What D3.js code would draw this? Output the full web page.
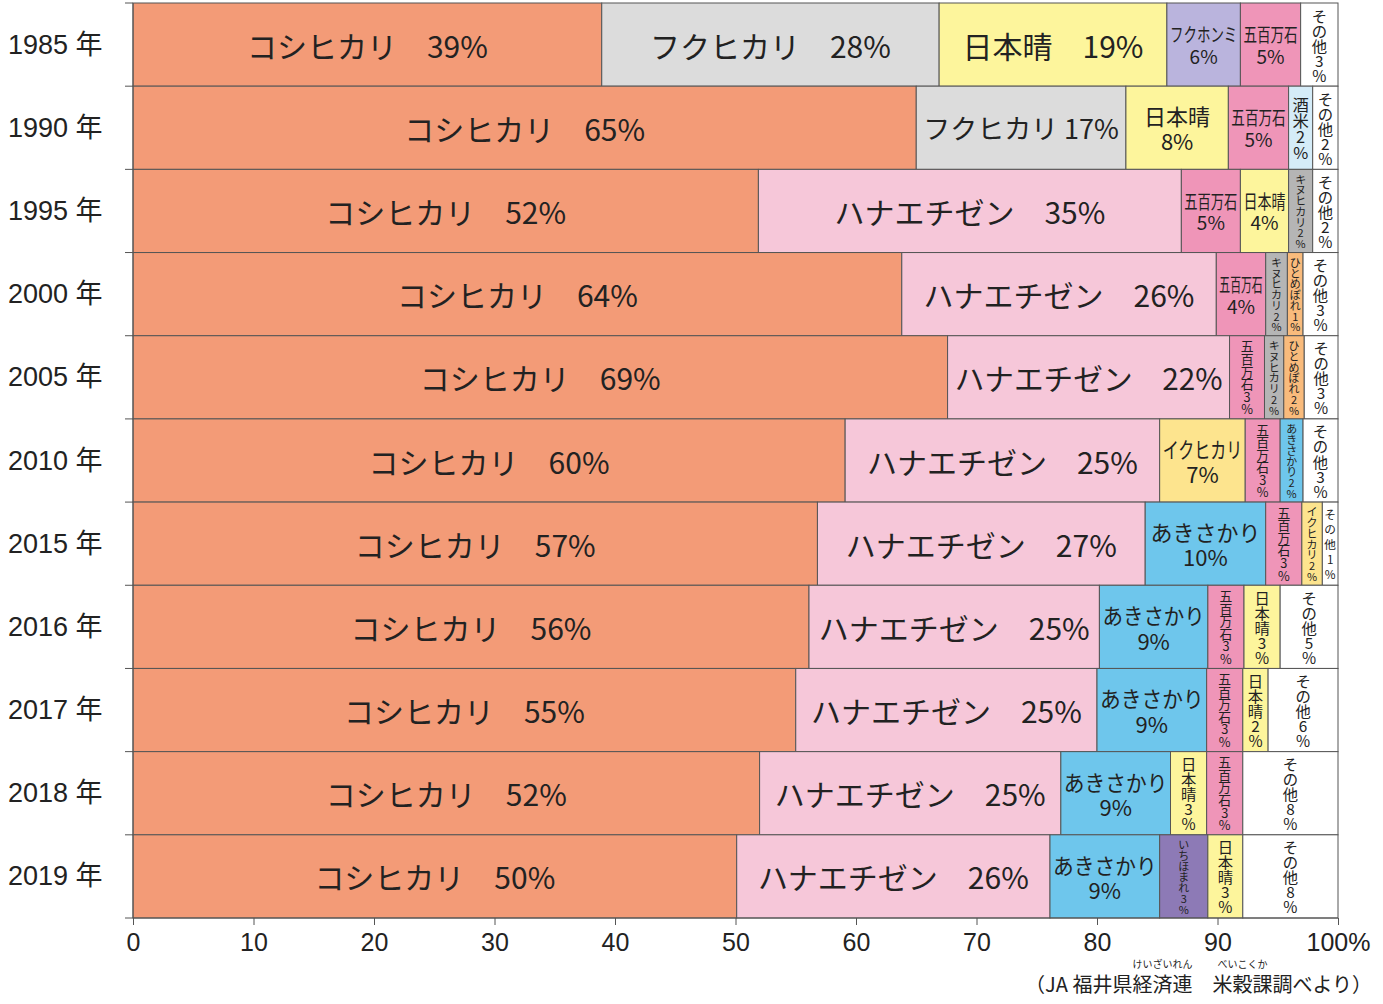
<!DOCTYPE html>
<html>
<head>
<meta charset="utf-8">
<script src="https://cdn.jsdelivr.net/npm/d3@7"></script>
<style>
  body { margin: 0; background: #fff; }
  svg { display: block; font-family: "Noto Sans CJK JP", "Noto Sans", sans-serif; }
  .axis text { font-size: 25px; fill: #222; font-family: "Liberation Sans", "Noto Sans CJK JP", sans-serif; }
  .axis path, .axis line { stroke: #555; }
</style>
</head>
<body>
<svg width="1383" height="1004"></svg>
<script>
// years shown on the left
const years = ["1985", "1990", "1995", "2000", "2005", "2010", "2015", "2016", "2017", "2018", "2019"];

// varieties in each year, left to right
const varieties = [
    ["コシヒカリ", "フクヒカリ", "日本晴", "フクホンミ", "五百万石", "その他"],
    ["コシヒカリ", "フクヒカリ", "日本晴", "五百万石", "酒米", "その他"],
    ["コシヒカリ", "ハナエチゼン", "五百万石", "日本晴", "キヌヒカリ", "その他"],
    ["コシヒカリ", "ハナエチゼン", "五百万石", "キヌヒカリ", "ひとめぼれ", "その他"],
    ["コシヒカリ", "ハナエチゼン", "五百万石", "キヌヒカリ", "ひとめぼれ", "その他"],
    ["コシヒカリ", "ハナエチゼン", "イクヒカリ", "五百万石", "あきさかり", "その他"],
    ["コシヒカリ", "ハナエチゼン", "あきさかり", "五百万石", "イクヒカリ", "その他"],
    ["コシヒカリ", "ハナエチゼン", "あきさかり", "五百万石", "日本晴", "その他"],
    ["コシヒカリ", "ハナエチゼン", "あきさかり", "五百万石", "日本晴", "その他"],
    ["コシヒカリ", "ハナエチゼン", "あきさかり", "日本晴", "五百万石", "その他"],
    ["コシヒカリ", "ハナエチゼン", "あきさかり", "いちほまれ", "日本晴", "その他"]
];

// printed shares (%)
const shares = [
    [39, 28, 19, 6, 5, 3],
    [65, 17, 8, 5, 2, 2],
    [52, 35, 5, 4, 2, 2],
    [64, 26, 4, 2, 1, 3],
    [69, 22, 3, 2, 2, 3],
    [60, 25, 7, 3, 2, 3],
    [57, 27, 10, 3, 2, 1],
    [56, 25, 9, 3, 3, 5],
    [55, 25, 9, 3, 2, 6],
    [52, 25, 9, 3, 3, 8],
    [50, 26, 9, 3, 3, 8]
];

// drawn bar lengths (%), as measured on the picture
const barLengths = [
    [38.9, 28.0, 18.9, 6.1, 5.0, 3.1],
    [65.0, 17.4, 8.5, 5.0, 2.0, 2.1],
    [51.9, 35.1, 4.9, 4.0, 2.0, 2.1],
    [63.8, 26.1, 4.1, 1.8, 1.3, 2.9],
    [67.6, 23.4, 2.9, 1.6, 1.7, 2.8],
    [59.1, 26.1, 7.1, 2.9, 1.9, 2.9],
    [56.8, 27.2, 10.0, 3.0, 1.7, 1.3],
    [56.1, 24.1, 9.0, 3.0, 3.0, 4.8],
    [55.0, 25.0, 9.1, 3.0, 2.1, 5.8],
    [52.0, 25.0, 9.1, 3.0, 3.0, 7.9],
    [50.1, 26.0, 9.1, 4.0, 2.9, 7.9]
];

const xTicks = [0, 10, 20, 30, 40, 50, 60, 70, 80, 90, 100];

const colors = {
    "コシヒカリ": "#f39b77",
    "フクヒカリ": "#dcdcdc",
    "日本晴": "#fdf59c",
    "フクホンミ": "#bab4dd",
    "五百万石": "#ef95b8",
    "その他": "#ffffff",
    "ハナエチゼン": "#f6c7d9",
    "酒米": "#d5ecf8",
    "キヌヒカリ": "#b5b5b5",
    "ひとめぼれ": "#f9bb7c",
    "イクヒカリ": "#fde48e",
    "あきさかり": "#6ec6ec",
    "いちほまれ": "#8d7ab6"
};

const margin = { top: 3, left: 133, right: 45, bottom: 86 },
    width = 1383 - margin.left - margin.right,
    height = 1004 - margin.top - margin.bottom;

const svg = d3.select("svg");
const g = svg.append("g")
    .attr("transform", "translate(" + margin.left + "," + margin.top + ")");

const x = d3.scaleLinear().domain([0, 100]).range([0, width]);
const y = d3.scaleBand().domain(years).range([0, height]).padding(0);
const rowH = y.bandwidth();

// flatten rows into segments with start/end
const segments = [];
years.forEach(function(yr, i) {
    let acc = 0;
    varieties[i].forEach(function(name, j) {
        segments.push({ year: yr, name: name, pct: shares[i][j], x0: acc, x1: acc + barLengths[i][j] });
        acc += barLengths[i][j];
    });
});

// bars
g.selectAll("rect.seg")
    .data(segments)
    .enter()
    .append("rect")
    .attr("class", "seg")
    .attr("x", d => x(d.x0))
    .attr("y", d => y(d.year))
    .attr("width", d => x(d.x1) - x(d.x0))
    .attr("height", rowH)
    .attr("fill", d => colors[d.name])
    .attr("stroke", "#555")
    .attr("stroke-width", 1);

function addText(px, py, fs, str) {
    return g.append("text")
        .attr("x", px).attr("y", py)
        .attr("text-anchor", "middle")
        .attr("dominant-baseline", "central")
        .attr("fill", "#222")
        .style("font-size", fs + "px")
        .text(str);
}

// labels: one line, two lines or stacked vertically depending on room
segments.forEach(function(d) {
    const segW = x(d.x1) - x(d.x0);
    const cx = x(d.x0) + segW / 2;
    const cy = y(d.year) + rowH / 2;
    const len = d.x1 - d.x0;

    if (len >= 12) {
        const room = segW - 14;
        const txt = addText(cx, cy, 30, d.name + "　" + d.pct + "%");
        let w = txt.node().getComputedTextLength();
        if (w > room && w * 26 / 30 <= room) {
            txt.style("font-size", (30 * room / w) + "px");
        } else if (w > room) {
            txt.text(d.name + " " + d.pct + "%");
            w = txt.node().getComputedTextLength();
            if (w > room) txt.style("font-size", (30 * room / w) + "px");
        }
    } else if (d.pct >= 4 && d.name !== "その他") {
        const fs = len >= 7 ? 22 : 19;
        const lh = fs * 1.15;
        [d.name, d.pct + "%"].forEach(function(line, i) {
            const txt = addText(cx, cy + (i - 0.5) * lh, fs, line);
            const w = txt.node().getComputedTextLength();
            if (w > segW - 6) txt.attr("textLength", segW - 6).attr("lengthAdjust", "spacingAndGlyphs");
        });
    } else {
        const chars = Array.from(d.name).concat(Array.from(String(d.pct)), ["%"]);
        const lh = Math.min(16, (rowH - 8) / chars.length);
        const fs = Math.min(17, lh * 1.02, segW - 4);
        chars.forEach(function(c, i) {
            addText(cx, cy + (i - (chars.length - 1) / 2) * lh, fs, c);
        });
    }
});

// x axis
g.append("g")
    .attr("class", "axis")
    .attr("transform", "translate(0," + height + ")")
    .call(d3.axisBottom(x)
        .tickValues(xTicks)
        .tickSize(7)
        .tickPadding(8)
        .tickFormat(d => d === 100 ? "100%" : d))
    .call(ax => ax.select(".domain").attr("d", "M0,0H" + width));

// left axis line with ticks on the row boundaries
g.append("line")
    .attr("x1", 0).attr("x2", 0)
    .attr("y1", 0).attr("y2", height)
    .attr("stroke", "#555");
g.selectAll("line.ytick")
    .data(years.map(yr => y(yr)).concat([height]))
    .enter()
    .append("line")
    .attr("class", "ytick")
    .attr("x1", -8).attr("x2", 0)
    .attr("y1", d => d).attr("y2", d => d)
    .attr("stroke", "#555");

// year labels
g.selectAll("text.year")
    .data(years)
    .enter()
    .append("text")
    .attr("class", "year")
    .attr("x", -125)
    .attr("y", d => y(d) + rowH / 2)
    .attr("dominant-baseline", "central")
    .attr("fill", "#222")
    .style("font-size", "27px")
    .style("font-family", "'Liberation Sans', 'Noto Sans CJK JP', sans-serif")
    .text(d => d + " 年");

// source note with furigana
const note = svg.append("text")
    .attr("x", 1372)
    .attr("y", 992)
    .attr("text-anchor", "end")
    .attr("fill", "#222")
    .style("font-size", "20px");
const noteParts = ["（JA 福井県", "経済連", "　", "米穀課", "調べより）"];
const rubyFor = { 1: "けいざいれん", 3: "べいこくか" };
noteParts.forEach(p => note.append("tspan").text(p));
noteParts.forEach(function(p, i) {
    if (!rubyFor[i]) return;
    const n = note.node();
    const start = noteParts.slice(0, i).join("").length;
    const first = n.getExtentOfChar(start);
    const last = n.getExtentOfChar(start + p.length - 1);
    const mid = (first.x + last.x + last.width) / 2;
    svg.append("text")
        .attr("x", mid)
        .attr("y", first.y - 1)
        .attr("text-anchor", "middle")
        .attr("fill", "#222")
        .style("font-size", "10px")
        .text(rubyFor[i]);
});
</script>
</body>
</html>
